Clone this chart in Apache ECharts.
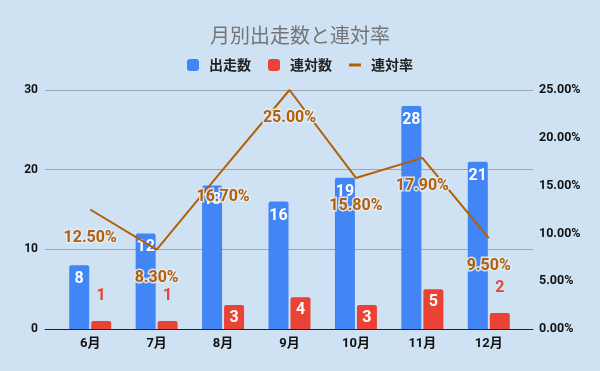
<!DOCTYPE html>
<html><head><meta charset="utf-8">
<script src="https://cdn.jsdelivr.net/npm/echarts@6/dist/echarts.min.js"></script>
<style>html,body{margin:0;padding:0;background:#cfe2f3}#c{width:600px;height:371px}</style>
</head><body><div id="c"></div>
<script>
const categories = ['6月','7月','8月','9月','10月','11月','12月'];
const starts = [8, 12, 18, 16, 19, 28, 21];
const places = [1, 1, 3, 4, 3, 5, 2];
const rates = [12.5, 8.3, 16.7, 25.0, 15.8, 17.9, 9.5];
const leftTicks = {min: 0, max: 30, interval: 10};
const rightTicks = {min: 0, max: 25, interval: 5};

const FONT = 'Roboto, "Noto Sans CJK JP", sans-serif';
const chart = echarts.init(document.getElementById('c'));
const TOP = 90, H = 239;
chart.setOption({
  backgroundColor: '#cfe2f3',
  title: {text: '月別出走数と連対率', left: 'center', top: 20,
    textStyle: {color: '#757575', fontSize: 20, fontWeight: 'normal', fontFamily: '"Noto Sans CJK JP", sans-serif'}},
  legend: {top: 53, left: 'center', itemWidth: 12, itemHeight: 12, itemGap: 17,
    textStyle: {color: '#222', fontSize: 14, fontWeight: 'bold', fontFamily: '"Noto Sans CJK JP", sans-serif', padding: [0,0,0,5]},
    data: [
      {name: '出走数', icon: 'roundRect'},
      {name: '連対数', icon: 'roundRect'},
      {name: '連対率', icon: 'path://M0 0 H12 V3 H0 Z'}
    ]},
  grid: [
    {left: 45, right: 67, top: TOP, height: H},
    {left: 57, right: 78, top: TOP, height: H}
  ],
  xAxis: [
    {type: 'category', gridIndex: 0, data: categories, axisLine: {lineStyle: {color: '#222', width: 1}},
      axisTick: {show: false}, axisLabel: {show: false}, z: 5},
    {type: 'category', gridIndex: 1, data: categories, axisLine: {show: false}, axisTick: {show: false},
      axisLabel: {color: '#111', fontSize: 13, fontWeight: 'bold', margin: 8, fontFamily: FONT}}
  ],
  yAxis: [
    {type: 'value', gridIndex: 0, position: 'left', min: leftTicks.min, max: leftTicks.max, interval: leftTicks.interval,
      axisLine: {show: false}, axisTick: {show: false},
      axisLabel: {color: '#111', fontSize: 12, fontWeight: 'bold', margin: 7, fontFamily: FONT},
      splitLine: {lineStyle: {color: '#9ca6b0', width: 1}}},
    {type: 'value', gridIndex: 0, position: 'right', min: rightTicks.min, max: rightTicks.max, interval: rightTicks.interval,
      axisLine: {show: false}, axisTick: {show: false}, splitLine: {show: false},
      axisLabel: {color: '#111', fontSize: 12.5, fontWeight: 'bold', margin: 6, fontFamily: FONT,
        formatter: v => v.toFixed(2) + '%'}},
    {type: 'value', gridIndex: 1, min: leftTicks.min, max: leftTicks.max, interval: leftTicks.interval, show: false, splitLine: {show: false}},
    {type: 'value', gridIndex: 1, min: rightTicks.min, max: rightTicks.max, interval: rightTicks.interval, show: false, splitLine: {show: false}}
  ],
  series: [
    {name: '出走数', type: 'bar', xAxisIndex: 1, yAxisIndex: 2, data: starts, barWidth: 20, barGap: '10%',
      itemStyle: {color: '#4285f4', borderRadius: [2,2,0,0]},
      label: {show: true, position: 'insideTop', distance: 6, color: '#fff', fontSize: 16, fontWeight: 'bold', fontFamily: FONT}},
    {name: '連対数', type: 'bar', xAxisIndex: 1, yAxisIndex: 2, barWidth: 20,
      data: places.map(v => v >= 3 ? v : {value: v, label: {position: 'top', distance: 17, color: '#ea4335'}}),
      itemStyle: {color: '#ea4335', borderRadius: [2,2,0,0]},
      label: {show: true, position: 'insideTop', distance: 5, color: '#fff', fontSize: 16, fontWeight: 'bold', fontFamily: FONT}},
    {name: '連対率', type: 'line', xAxisIndex: 1, yAxisIndex: 3, data: rates, symbol: 'circle', symbolSize: 0, showSymbol: true,
      lineStyle: {color: '#b45f06', width: 2}, itemStyle: {color: '#b45f06'}, z: 10,
      label: {show: true, position: 'bottom', distance: 20, color: '#b45f06', fontSize: 16, fontWeight: 'bold', fontFamily: FONT,
        textBorderColor: 'rgba(225,236,247,0.9)', textBorderWidth: 3,
        formatter: p => p.value.toFixed(2) + '%'}}
  ]
});
</script></body></html>
